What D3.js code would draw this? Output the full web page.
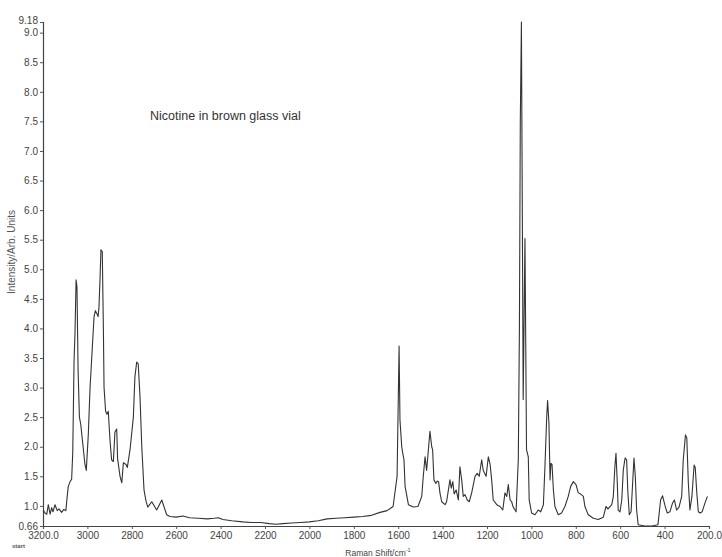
<!DOCTYPE html>
<html>
<head>
<meta charset="utf-8">
<script src="https://cdn.jsdelivr.net/npm/d3@7/dist/d3.min.js"></script>
<style>
  html, body { margin: 0; padding: 0; background: #fff; }
  svg { display: block; }
  .tick-label { font-family: "Liberation Sans Narrow", "Arial Narrow", "Liberation Sans", Arial, sans-serif; font-size: 10px; fill: #444; }
</style>
</head>
<body>
<svg id="chart" width="722" height="557"></svg>
<script>
// Raman spectrum of nicotine (brown glass vial)
const ramanShift = [
  3199, 3191, 3183, 3176, 3168, 3161, 3155, 3146, 3136, 3128, 3116, 3106, 3097, 3091, 3086, 3078,
  3071, 3066, 3060, 3056, 3051, 3047, 3042, 3036, 3030, 3021, 3011, 3005, 2996, 2988, 2976, 2970,
  2964, 2957, 2952, 2948, 2943, 2939, 2933, 2928, 2925, 2918, 2912, 2906, 2898, 2891, 2883, 2876,
  2868, 2864, 2853, 2845, 2838, 2826, 2820, 2808, 2793, 2786, 2778, 2771, 2763, 2755, 2745, 2736,
  2728, 2710, 2688, 2665, 2643, 2628, 2600, 2570, 2540, 2500, 2460, 2430, 2410, 2390, 2350, 2300,
  2260, 2220, 2180, 2150, 2120, 2080, 2040, 2000, 1960, 1920, 1880, 1840, 1800, 1760, 1720, 1682,
  1650, 1623, 1605, 1596, 1592, 1584, 1580, 1574, 1569, 1554, 1532, 1511, 1494, 1487, 1479, 1472,
  1464, 1457, 1449, 1445, 1439, 1430, 1424, 1418, 1412, 1404, 1389, 1382, 1367, 1361, 1354, 1348,
  1339, 1329, 1322, 1314, 1307, 1299, 1289, 1280, 1269, 1254, 1244, 1235, 1224, 1217, 1204, 1194,
  1186, 1179, 1172, 1156, 1141, 1129, 1119, 1111, 1104, 1096, 1089, 1082, 1069, 1059, 1054, 1050,
  1045, 1041, 1037, 1032, 1029, 1026, 1022, 1014, 1010, 999, 984, 969, 958, 946, 939, 931,
  927, 921, 916, 912, 907, 901, 894, 879, 864, 849, 834, 823, 811, 799, 789, 778,
  766, 759, 744, 721, 699, 676, 664, 655, 638, 631, 624, 619, 613, 609, 601, 593,
  586, 578, 571, 566, 559, 551, 544, 538, 532, 526, 519, 489, 457, 430, 418, 409,
  398, 388, 376, 364, 356, 346, 335, 323, 316, 306, 300, 293, 286, 277, 267, 262,
  255, 248, 240, 231, 218, 207
];
const intensity = [
  0.93, 0.88, 0.86, 1.02, 0.86, 0.97, 0.90, 1.02, 0.92, 0.95, 0.89, 0.94, 0.92, 1.16, 1.33, 1.41,
  1.45, 1.90, 3.47, 3.90, 4.82, 4.70, 3.30, 2.50, 2.38, 2.06, 1.70, 1.60, 2.20, 3.00, 3.80, 4.20,
  4.30, 4.25, 4.20, 4.35, 4.85, 5.33, 5.30, 4.00, 3.00, 2.60, 2.55, 2.60, 2.10, 1.78, 1.75, 2.25,
  2.30, 1.80, 1.50, 1.39, 1.73, 1.70, 1.65, 1.95, 2.50, 3.18, 3.43, 3.40, 2.84, 2.00, 1.27, 1.08,
  0.98, 1.07, 0.93, 1.10, 0.85, 0.82, 0.81, 0.83, 0.80, 0.79, 0.78, 0.79, 0.80, 0.77, 0.75, 0.73,
  0.72, 0.72, 0.70, 0.69, 0.70, 0.71, 0.72, 0.73, 0.75, 0.78, 0.79, 0.80, 0.81, 0.82, 0.84, 0.89,
  0.92, 0.99, 1.50, 3.70, 2.45, 2.00, 1.90, 1.78, 1.33, 1.02, 0.98, 0.99, 1.16, 1.50, 1.83, 1.60,
  1.95, 2.26, 2.00, 1.95, 1.44, 1.38, 1.42, 1.41, 1.22, 1.07, 1.02, 1.07, 1.44, 1.30, 1.41, 1.20,
  1.27, 1.10, 1.66, 1.44, 1.16, 1.19, 1.10, 1.07, 1.22, 1.50, 1.55, 1.50, 1.78, 1.60, 1.50, 1.83,
  1.70, 1.44, 1.10, 1.02, 0.99, 0.93, 1.22, 1.16, 1.36, 1.10, 1.07, 0.98, 0.90, 1.78, 4.00, 7.50,
  9.18, 6.00, 2.80, 4.50, 5.52, 4.00, 1.95, 1.83, 1.10, 0.88, 0.85, 0.93, 0.90, 1.02, 1.66, 2.51,
  2.78, 2.40, 1.44, 1.72, 1.70, 1.27, 0.99, 0.85, 0.88, 0.99, 1.16, 1.33, 1.41, 1.36, 1.22, 1.20,
  1.16, 0.99, 0.85, 0.79, 0.77, 0.81, 0.99, 0.95, 1.02, 1.16, 1.66, 1.89, 1.38, 0.93, 0.90, 1.10,
  1.61, 1.81, 1.78, 1.27, 0.85, 0.90, 1.38, 1.81, 1.50, 0.93, 0.68, 0.66, 0.66, 0.68, 1.10, 1.17,
  1.00, 0.88, 0.90, 1.05, 1.10, 0.93, 0.98, 1.16, 1.78, 2.20, 2.15, 1.38, 0.93, 1.16, 1.69, 1.65,
  1.22, 0.90, 0.88, 0.90, 1.05, 1.16
];

// Axis ticks
const xTickValues = [3200, 3000, 2800, 2600, 2400, 2200, 2000, 1800, 1600, 1400, 1200, 1000, 800, 600, 400, 200];
const xTickLabels = ["3200.0", "3000", "2800", "2600", "2400", "2200", "2000", "1800", "1600", "1400", "1200", "1000", "800", "600", "400", "200.0"];
const yTickValues = [0.66, 1.0, 1.5, 2.0, 2.5, 3.0, 3.5, 4.0, 4.5, 5.0, 5.5, 6.0, 6.5, 7.0, 7.5, 8.0, 8.5, 9.0, 9.18];
const yTickLabels = ["0.66", "1.0", "1.5", "2.0", "2.5", "3.0", "3.5", "4.0", "4.5", "5.0", "5.5", "6.0", "6.5", "7.0", "7.5", "8.0", "8.5", "9.0", "9.18"];

const chartTitle = "Nicotine in brown glass vial";
const xTitle = "Raman Shift/cm";
const yTitle = "Intensity/Arb. Units";

const svg = d3.select("#chart");
const x = d3.scaleLinear().domain([3200, 200]).range([43, 709]);
const y = d3.scaleLinear().domain([0.66, 9.18]).range([526, 22]);

// x axis
const xAxis = d3.axisBottom(x)
  .tickValues(xTickValues)
  .tickFormat((d, i) => xTickLabels[i])
  .tickSize(3)
  .tickPadding(3);
const gx = svg.append("g").attr("transform", "translate(0,526)").call(xAxis);
gx.select(".domain").attr("stroke", "#444").attr("stroke-width", 1.2);
gx.selectAll(".tick line").attr("stroke", "#555");
gx.selectAll(".tick text").attr("class", "tick-label");

// y axis
const yAxis = d3.axisLeft(y)
  .tickValues(yTickValues)
  .tickFormat((d, i) => yTickLabels[i])
  .tickSize(3)
  .tickPadding(2);
const gy = svg.append("g").attr("transform", "translate(43,0)").call(yAxis);
gy.select(".domain").attr("stroke", "#444").attr("stroke-width", 1.2);
gy.selectAll(".tick line").attr("stroke", "#555");
gy.selectAll(".tick text").attr("class", "tick-label");
// the top label sits slightly raised so it clears the 9.0 label
gy.selectAll(".tick").filter(d => d === 9.18).select("text").attr("dy", "0.1em");

// spectrum trace
const points = ramanShift.map((s, i) => [s, intensity[i]]);
svg.append("path")
  .datum(points)
  .attr("fill", "none")
  .attr("stroke", "#333")
  .attr("stroke-width", 1.1)
  .attr("stroke-linejoin", "round")
  .attr("d", d3.line().x(d => x(d[0])).y(d => y(d[1])));

// titles
svg.append("text")
  .attr("x", 150).attr("y", 120)
  .attr("font-family", "Liberation Sans, Arial, sans-serif")
  .attr("font-size", 12.5)
  .attr("fill", "#333")
  .text(chartTitle);

const xt = svg.append("text")
  .attr("x", 378).attr("y", 556)
  .attr("text-anchor", "middle")
  .attr("font-family", "Liberation Sans, Arial, sans-serif")
  .attr("font-size", 8.5)
  .attr("fill", "#444")
  .text(xTitle);
xt.append("tspan").attr("dy", -4).attr("font-size", 5.5).text("-1");

svg.append("text")
  .attr("transform", "translate(15,252) rotate(-90)")
  .attr("text-anchor", "middle")
  .attr("font-family", "Liberation Sans, Arial, sans-serif")
  .attr("font-size", 10)
  .attr("fill", "#555")
  .text(yTitle);

svg.append("text")
  .attr("x", 12).attr("y", 548)
  .attr("font-family", "Liberation Sans, Arial, sans-serif")
  .attr("font-size", 6)
  .attr("font-weight", "bold")
  .attr("fill", "#555")
  .text("start");
</script>
</body>
</html>
